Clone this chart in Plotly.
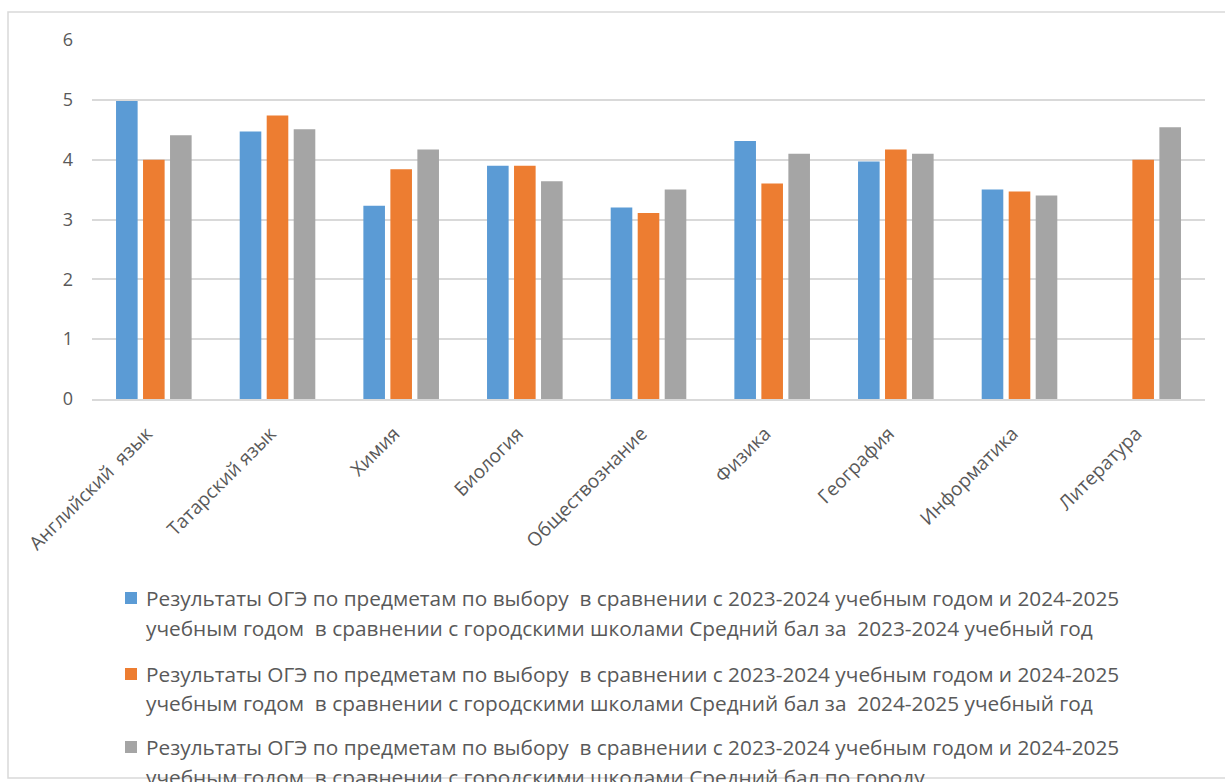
import plotly.graph_objects as go

categories = ["Английский  язык", "Татарский язык", "Химия", "Биология", "Обществознание",
              "Физика", "География", "Информатика", "Литература"]
avg_2023_2024 = [4.98, 4.47, 3.23, 3.90, 3.20, 4.31, 3.97, 3.50, None]
avg_2024_2025 = [4.00, 4.74, 3.84, 3.90, 3.11, 3.60, 4.17, 3.47, 4.00]
avg_city = [4.41, 4.51, 4.17, 3.64, 3.50, 4.10, 4.10, 3.40, 4.54]
y_ticks = [0, 1, 2, 3, 4, 5, 6]

series_names = [
    "Результаты ОГЭ по предметам по выбору  в сравнении с 2023-2024 учебным годом и 2024-2025<br>учебным годом  в сравнении с городскими школами Средний бал за  2023-2024 учебный год",
    "Результаты ОГЭ по предметам по выбору  в сравнении с 2023-2024 учебным годом и 2024-2025<br>учебным годом  в сравнении с городскими школами Средний бал за  2024-2025 учебный год",
    "Результаты ОГЭ по предметам по выбору  в сравнении с 2023-2024 учебным годом и 2024-2025<br>учебным годом  в сравнении с городскими школами Средний бал по городу",
]
colors = ["#5B9BD5", "#ED7D31", "#A5A5A5"]
series_values = [avg_2023_2024, avg_2024_2025, avg_city]

FONT = "'Open Sans', Lato, sans-serif"
TXT = "#595959"

W, H = 1225, 782
ML, MR, MT, MB = 92, W - 1205, 40, H - 399
PW, PH = W - ML - MR, H - MT - MB


def px(x):
    return (x - ML) / PW


def py(y):
    return (H - MB - y) / PH


fig = go.Figure()
for name, vals, col in zip(series_names, series_values, colors):
    fig.add_trace(go.Bar(x=categories, y=vals, name=name, marker_color=col,
                         marker_line_width=0, showlegend=False))

shapes = [dict(type="rect", xref="paper", yref="paper",
               x0=px(8), x1=px(1240), y0=py(778), y1=py(12),
               line=dict(color="#D9D9D9", width=1.5), fillcolor="rgba(0,0,0,0)", layer="below")]
annotations = []
legend_rows = [(598, 628), (674, 703), (747, 777)]
for name, col, (y1, y2) in zip(series_names, colors, legend_rows):
    l1, l2 = name.split("<br>")
    shapes.append(dict(type="rect", xref="paper", yref="paper",
                       x0=px(125), x1=px(137), y0=py(y1 + 6), y1=py(y1 - 6),
                       fillcolor=col, line=dict(width=0)))
    for txt, yy in ((l1, y1), (l2, y2)):
        annotations.append(dict(text=txt, xref="paper", yref="paper", x=px(144), y=py(yy),
                                xanchor="left", yanchor="middle", showarrow=False,
                                font=dict(family=FONT, size=20.8, color=TXT)))

fig.update_layout(
    width=W, height=H,
    margin=dict(l=ML, r=MR, t=MT, b=MB, autoexpand=False),
    paper_bgcolor="white", plot_bgcolor="white",
    barmode="group", bargap=0.345, bargroupgap=0.2,
    font=dict(family=FONT, size=18, color=TXT),
    xaxis=dict(tickangle=-45, tickfont=dict(size=19, color=TXT), showgrid=False,
               showline=True, linecolor="#D9D9D9", linewidth=2, ticks="",
               ticklabelstandoff=14, ticklabelshift=-7),
    yaxis=dict(range=[0, 6], tickvals=y_ticks, tickfont=dict(size=18, color=TXT),
               showgrid=True, gridcolor="#D9D9D9", gridwidth=1.5, zeroline=False,
               showline=False, ticks="", ticklabelstandoff=18),
    shapes=shapes, annotations=annotations,
)

fig.write_html("out.html", config={"displayModeBar": False},
               post_script="document.body.style.margin='0';document.body.style.overflow='hidden';")
